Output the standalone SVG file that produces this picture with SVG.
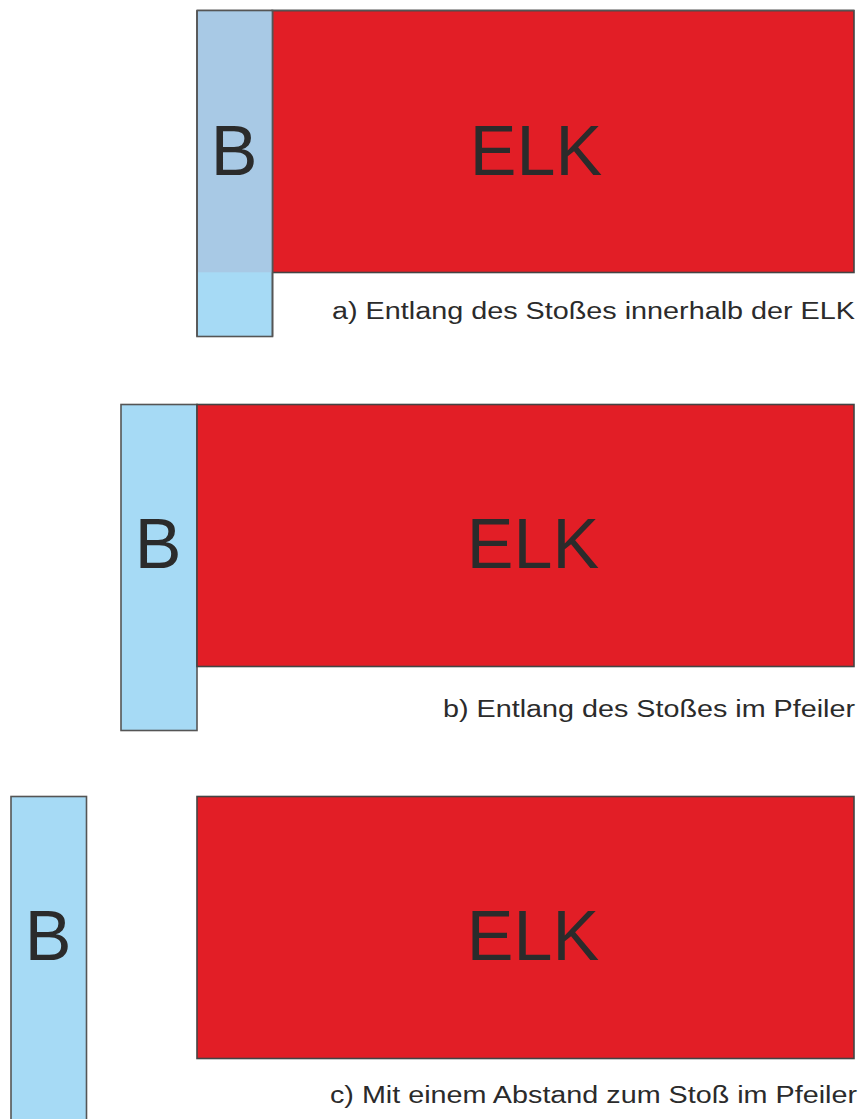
<svg xmlns="http://www.w3.org/2000/svg" width="861" height="1119" viewBox="0 0 861 1119">
<style>
.red{fill:#e21e26;stroke:#444;stroke-width:1.6}
.blue{fill:#a6daf5;stroke:#555;stroke-width:1.6}
.big{font-family:"Liberation Sans",Arial,sans-serif;font-size:70px;fill:#2b2b2b;text-anchor:middle}
.cap{font-family:"Liberation Sans",Arial,sans-serif;font-size:23.5px;fill:#2b2b2b}
</style>
<rect width="861" height="1119" fill="#fff"/>
<g id="panel-a">
  <rect class="red" x="272" y="10.5" width="582" height="262"/>
  <rect class="blue" x="197" y="10.5" width="75.5" height="326"/>
  <rect x="198" y="11.3" width="73.7" height="261" fill="#a8c9e5"/>
  <line x1="197" y1="10.5" x2="197" y2="336.5" stroke="#555" stroke-width="1.6"/>
  <line x1="272.5" y1="10.5" x2="272.5" y2="336.5" stroke="#555" stroke-width="1.6"/>
  <line x1="197" y1="10.5" x2="854" y2="10.5" stroke="#555" stroke-width="1.6"/>
  <text class="big" x="536" y="175">ELK</text>
  <text class="big" x="234" y="175">B</text>
  <text class="cap" x="332" y="319" textLength="523" lengthAdjust="spacingAndGlyphs">a) Entlang des Stoßes innerhalb der ELK</text>
</g>
<g id="panel-b">
  <rect class="blue" x="121" y="404.5" width="76" height="326"/>
  <rect class="red" x="197" y="404.5" width="657" height="262"/>
  <text class="big" x="533" y="568">ELK</text>
  <text class="big" x="158" y="568">B</text>
  <text class="cap" x="443" y="717" textLength="412" lengthAdjust="spacingAndGlyphs">b) Entlang des Stoßes im Pfeiler</text>
</g>
<g id="panel-c">
  <rect class="blue" x="11" y="796.5" width="75.5" height="330"/>
  <rect class="red" x="197" y="796.5" width="657" height="262"/>
  <text class="big" x="533" y="960">ELK</text>
  <text class="big" x="48" y="960">B</text>
  <text class="cap" x="330" y="1103" textLength="527" lengthAdjust="spacingAndGlyphs">c) Mit einem Abstand zum Stoß im Pfeiler</text>
</g>
<g id="connectors"></g>
</svg>
